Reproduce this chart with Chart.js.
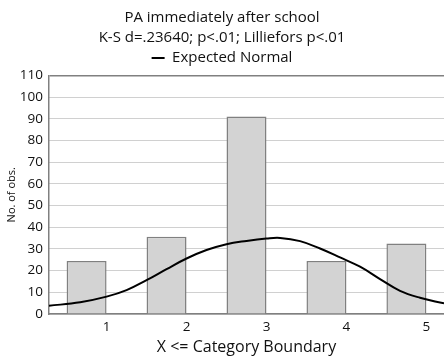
<!DOCTYPE html>
<html>
<head>
<meta charset="utf-8">
<script src="https://cdn.jsdelivr.net/npm/chart.js@4.4.0/dist/chart.umd.min.js"></script>
<style>
  html, body { margin: 0; padding: 0; background: #fff; }
  #wrap { width: 444px; height: 360px; }
</style>
</head>
<body>
<div id="wrap"><canvas id="chart" width="444" height="360"></canvas></div>
<script>
// category boundaries (X <= boundary) and observed counts
const boundaries = [1, 2, 3, 4, 5];
const counts = [24.4, 35.6, 91.1, 24.4, 32.5];

// expected normal curve
const curveX = [0.28, 0.67, 1, 1.25, 1.5, 1.75, 2, 2.25, 2.5, 2.75, 3, 3.17, 3.42, 3.67, 3.92, 4.17, 4.42, 4.67, 4.92, 5.22];
const curveY = [3.8, 5.4, 8.0, 11.0, 15.6, 20.7, 25.6, 29.5, 32.2, 33.7, 34.8, 35.1, 33.6, 30.2, 26.1, 21.8, 16.1, 10.7, 7.5, 4.9];

const yTicks = [0, 10, 20, 30, 40, 50, 60, 70, 80, 90, 100, 110];

const FONT = "'Open Sans', sans-serif";

// bars sit in the half interval just left of each boundary
const barPoints = boundaries.map((b, i) => ({ x: b - 0.25, y: counts[i] }));
const curvePoints = curveX.map((x, i) => ({ x: x, y: curveY[i] }));

new Chart(document.getElementById('chart').getContext('2d'), {
  type: 'bar',
  data: {
    datasets: [{
      type: 'line',
      label: 'Expected Normal',
      data: curvePoints,
      borderColor: '#000',
      borderWidth: 2,
      pointRadius: 0,
      tension: 0.4,
      fill: false,
      order: 0
    }, {
      type: 'bar',
      label: 'No. of obs.',
      data: barPoints,
      backgroundColor: '#d3d3d3',
      borderColor: '#808080',
      borderWidth: 1.5,
      barPercentage: 0.5,
      categoryPercentage: 1,
      order: 1
    }]
  },
  options: {
    responsive: false,
    animation: false,
    layout: { padding: 0 },
    plugins: {
      title: {
        display: true,
        text: ['PA immediately after school', 'K-S d=.23640; p<.01; Lilliefors p<.01'],
        color: '#111',
        font: { family: FONT, size: 15, weight: 'normal', lineHeight: 1.35 },
        padding: { top: 7.5, bottom: 0 }
      },
      legend: {
        display: true,
        labels: {
          filter: (item) => item.datasetIndex === 0,
          usePointStyle: true,
          pointStyle: 'line',
          pointStyleWidth: 13,
          boxHeight: 15,
          padding: 2.5,
          color: '#111',
          font: { family: FONT, size: 15 }
        }
      },
      tooltip: { enabled: false }
    },
    scales: {
      x: {
        type: 'linear',
        offset: false,
        min: 0.28,
        max: 5.22,
        afterBuildTicks: (scale) => { scale.ticks = boundaries.map(v => ({ value: v })); },
        afterFit: (scale) => { scale.height = 46; },
        grid: { display: false, drawTicks: false },
        border: { display: true, color: '#808080', width: 1.5 },
        ticks: { color: '#111', padding: 5, font: { family: FONT, size: 13.5 } },
        title: {
          display: true,
          text: 'X <= Category Boundary',
          color: '#111',
          font: { family: FONT, size: 16 },
          padding: { top: 0, bottom: 3 }
        }
      },
      y: {
        min: 0,
        max: 110,
        afterBuildTicks: (scale) => { scale.ticks = yTicks.map(v => ({ value: v })); },
        afterFit: (scale) => { scale.width = 49; },
        grid: {
          drawTicks: false,
          color: (ctx) => ctx.tick && ctx.tick.value === 110 ? '#808080' : '#a0a0a0',
          lineWidth: (ctx) => ctx.tick && ctx.tick.value === 110 ? 1.5 : 1
        },
        border: {
          display: true,
          color: '#808080',
          width: 1.5,
          dash: (ctx) => ctx.tick && ctx.tick.value === 110 ? [] : [1, 1]
        },
        ticks: { color: '#111', padding: 6, font: { family: FONT, size: 13.5 } },
        title: {
          display: true,
          text: 'No. of obs.',
          color: '#111',
          font: { family: FONT, size: 11 },
          padding: { top: 5, bottom: 0 }
        }
      }
    }
  }
});
</script>
</body>
</html>
